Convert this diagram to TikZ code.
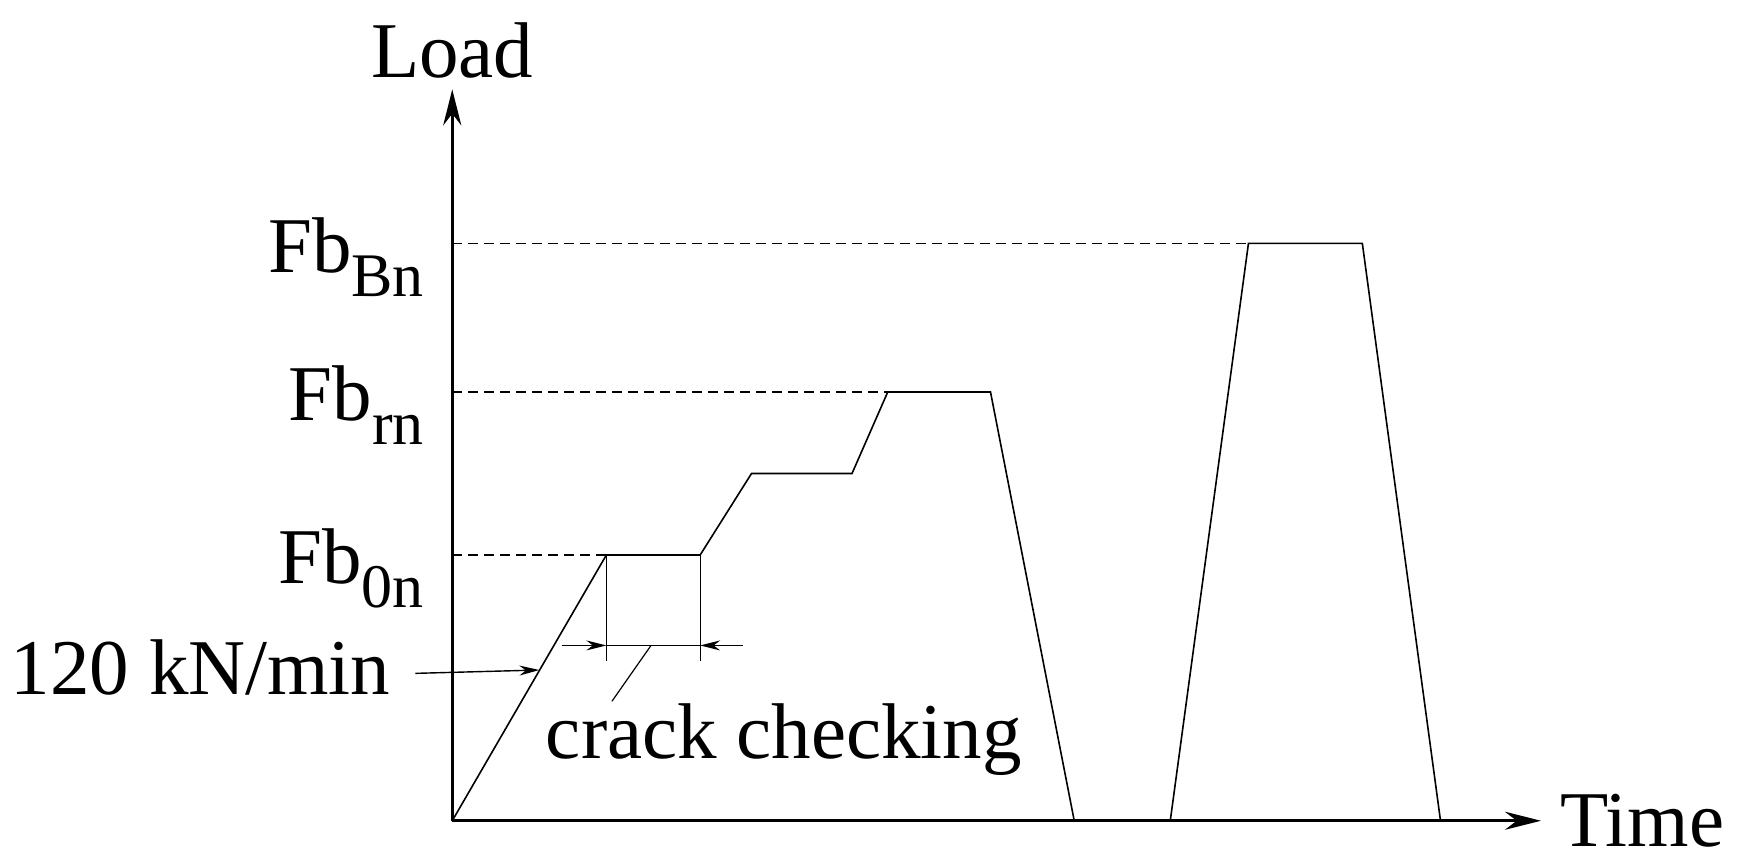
\documentclass[tikz,border=0pt]{standalone}
\usepackage{fontspec}
\setmainfont{Liberation Serif}
\usetikzlibrary{arrows.meta}
\newcommand{\lowsub}[1]{\raisebox{-0.3em}{\fontsize{31}{34}\selectfont #1}}
\begin{document}
\begin{tikzpicture}[x=0.5583pt,y=-0.5583pt,
  lbl/.style={font=\fontsize{39.5}{44}\selectfont,inner sep=0pt},
  axis/.style={line width=1.5pt,-{Stealth[length=18pt,width=9pt]}},
  curve/.style={line width=0.8pt},
  dsh/.style={line width=0.7pt,dash pattern=on 5pt off 3pt},
  dim/.style={line width=0.7pt,-{Stealth[length=10pt,width=5pt]}}]
\useasboundingbox (0,0) rectangle (1560,777);
\coordinate (O) at (405,735);
\coordinate (Ytip) at (405,80);
\coordinate (Xtip) at (1380,735);
\draw[axis] (O) -- (Ytip);
\draw[axis] (O) -- (Xtip);
\node[lbl] (load) at (405,45) {Load};
\node[lbl,anchor=west] (time) at (1397,735) {Time};
\node[lbl,anchor=east] (fbB) at (380,230) {Fb\lowsub{Bn}};
\node[lbl,anchor=east] (fbr) at (380,363) {Fb\lowsub{rn}};
\node[lbl,anchor=east] (fb0) at (380,509) {Fb\lowsub{0n}};
\coordinate (a) at (543,497); \coordinate (b) at (627,497);
\coordinate (c) at (673,424); \coordinate (d) at (763,424);
\coordinate (e) at (795,351); \coordinate (f) at (887,351);
\coordinate (g) at (962,735); \coordinate (h) at (1048,735);
\coordinate (i) at (1118,218); \coordinate (j) at (1220,218);
\coordinate (k) at (1290,735);
\draw[curve] (O) -- (a) -- (b) -- (c) -- (d) -- (e) -- (f) -- (g);
\draw[curve] (h) -- (i) -- (j) -- (k);
\draw[dsh] (405,218) -- (i);
\draw[dsh] (405,351) -- (e);
\draw[dsh] (405,497) -- (a);
\draw[line width=0.6pt] (a) -- (543,592);
\draw[line width=0.6pt] (b) -- (627,592);
\draw[dim] (503,578) -- (543,578);
\draw[dim] (665,578) -- (627,578);
\draw[line width=0.6pt] (543,578) -- (627,578);
\node[lbl] (crack) at (702,662) {crack checking};
\draw[line width=0.6pt] (583,578) -- (548,628);
\node[lbl,anchor=east] (rate) at (350,598) {120 kN/min};
\draw[dim] (372,603) -- (483,600);
\end{tikzpicture}
\end{document}
